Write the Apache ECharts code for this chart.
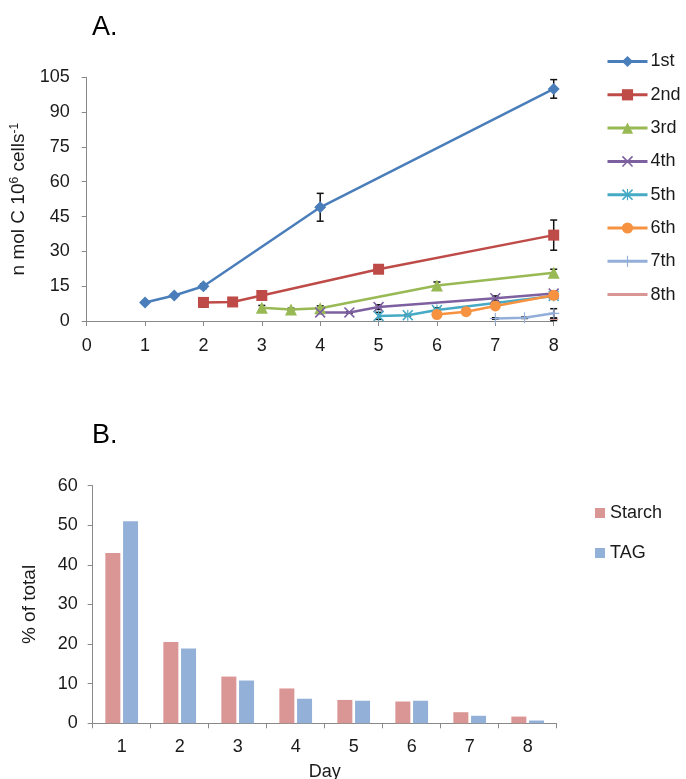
<!DOCTYPE html>
<html>
<head>
<meta charset="utf-8">
<script src="https://cdn.jsdelivr.net/npm/echarts@6/dist/echarts.min.js"></script>
<style>
html,body{margin:0;padding:0;background:#fff;}
#chart{width:686px;height:779px;}
</style>
</head>
<body>
<div id="chart"></div>
<script>
// ---- Panel A data ----
const seriesNames = ['1st','2nd','3rd','4th','5th','6th','7th','8th'];
const days1 = [1, 1.5, 2, 4, 8];
const vals1 = [8, 11, 15, 49, 100];
const err1  = [0.5, 0.5, 1, 6, 4];
const days2 = [2, 2.5, 3, 5, 8];
const vals2 = [8, 8.2, 11, 22.3, 37];
const err2  = [2, 0.5, 0.5, 1.5, 6.5];
const days3 = [3, 3.5, 4, 6, 8];
const vals3 = [5.7, 5, 5.5, 15.3, 20.8];
const err3  = [1, 0.5, 1, 1.5, 1.5];
const days4 = [4, 4.5, 5, 7, 8];
const vals4 = [3.7, 3.7, 6, 9.8, 11.8];
const err4  = [0.5, 0.3, 1, 1, 1];
const days5 = [5, 5.5, 6, 8];
const vals5 = [2.2, 2.5, 4.7, 10.8];
const err5  = [1.5, 0.3, 1, 1];
const days6 = [6, 6.5, 7, 8];
const vals6 = [2.8, 4, 6.5, 11.1];
const err6  = [0.5, 0.5, 0.5, 1];
const days7 = [7, 7.5, 8];
const vals7 = [1.1, 1.4, 3.3];
const err7  = [0.3, 0.3, 2];
const days8 = [8];
const vals8 = [0.7];
const err8  = [0.5];
const yTicksA = [0, 15, 30, 45, 60, 75, 90, 105];

// ---- Panel B data ----
const dayCats = ['1','2','3','4','5','6','7','8'];
const starch = [43, 20.5, 11.8, 8.8, 5.9, 5.5, 2.8, 1.7];
const tag    = [51, 18.9, 10.8, 6.2, 5.7, 5.7, 1.9, 0.7];

// ---- styles ----
const colors = ['#4A7EBB','#BE4B48','#98B954','#7D60A0','#46AAC5','#F69240','#93AED8','#DA9694'];
const symX = 'path://M0,1 L1,0 L5,4 L9,0 L10,1 L6,5 L10,9 L9,10 L5,6 L1,10 L0,9 L4,5 Z';
const symStar = 'path://M0,1 L1,0 L4.5,3.5 L4.5,0 L5.5,0 L5.5,3.5 L9,0 L10,1 L6,5 L10,9 L9,10 L5.5,6.5 L5.5,10 L4.5,10 L4.5,6.5 L1,10 L0,9 L4,5 Z';
const symPlus = 'path://M4.5,0 L5.5,0 L5.5,4.5 L10,4.5 L10,5.5 L5.5,5.5 L5.5,10 L4.5,10 L4.5,5.5 L0,5.5 L0,4.5 L4.5,4.5 Z';
const symDash = 'path://M0,0 L10,0 L10,3 L0,3 Z';
const symbols = ['diamond','rect','triangle',symX,symStar,'circle',symPlus,symDash];
const symSizes = [12, 11, 12, 11, 11, 11, 11, [9,3]];

const allDays = [days1,days2,days3,days4,days5,days6,days7,days8];
const allVals = [vals1,vals2,vals3,vals4,vals5,vals6,vals7,vals8];
const allErr  = [err1,err2,err3,err4,err5,err6,err7,err8];

const textColor = '#1a1a1a';
const axisColor = '#898989';
const font = 'Liberation Sans, Arial, sans-serif';
const fs = 18;

const series = [];
const errData = [];
seriesNames.forEach((nm, i) => {
  series.push({
    name: nm, type: 'line', xAxisIndex: 0, yAxisIndex: 0,
    data: allDays[i].map((d, j) => [d, allVals[i][j]]),
    symbol: symbols[i], symbolSize: symSizes[i],
    symbolKeepAspect: true,
    showAllSymbol: true,
    lineStyle: { color: colors[i], width: 2.5 },
    itemStyle: { color: colors[i] },
    z: 3, animation: false
  });
  allDays[i].forEach((d, j) => {
    errData.push([d, allVals[i][j] - allErr[i][j], allVals[i][j] + allErr[i][j]]);
  });
});

series.push({
  type: 'custom', xAxisIndex: 0, yAxisIndex: 0, z: 2, silent: true,
  data: errData,
  encode: { x: 0, y: [1, 2] },
  renderItem: function (params, api) {
    const x = api.value(0), lo = api.value(1), hi = api.value(2);
    const p1 = api.coord([x, lo]), p2 = api.coord([x, hi]);
    const w = 3.5;
    const st = { stroke: '#111', lineWidth: 1.5 };
    return { type: 'group', children: [
      { type: 'line', shape: { x1: p1[0], y1: p1[1], x2: p2[0], y2: p2[1] }, style: st },
      { type: 'line', shape: { x1: p1[0]-w, y1: p1[1], x2: p1[0]+w, y2: p1[1] }, style: st },
      { type: 'line', shape: { x1: p2[0]-w, y1: p2[1], x2: p2[0]+w, y2: p2[1] }, style: st }
    ]};
  },
  animation: false
});

series.push({
  name: 'Starch', type: 'bar', xAxisIndex: 1, yAxisIndex: 1,
  data: starch, barWidth: 15, barGap: '18%',
  itemStyle: { color: '#DA9694' }, animation: false
});
series.push({
  name: 'TAG', type: 'bar', xAxisIndex: 1, yAxisIndex: 1,
  data: tag, barWidth: 15, barGap: '18%',
  itemStyle: { color: '#93B1D8' }, animation: false
});

const legendAData = seriesNames.map((nm, i) =>
  i === 7 ? { name: nm, itemStyle: { opacity: 0 } } : { name: nm });

const chart = echarts.init(document.getElementById('chart'));
chart.setOption({
  backgroundColor: '#fff',
  animation: false,
  textStyle: { fontFamily: font, color: textColor },
  title: [
    { text: 'A.', left: 92, top: 14, padding: 0, textStyle: { fontSize: 27, fontWeight: 'normal', color: '#000', fontFamily: font } },
    { text: 'B.', left: 92, top: 422, padding: 0, textStyle: { fontSize: 27, fontWeight: 'normal', color: '#000', fontFamily: font } }
  ],
  legend: [
    {
      data: legendAData, orient: 'vertical', left: 606, top: 52.5, padding: 0,
      itemWidth: 40, itemHeight: 14, itemGap: 15.3,
      lineStyle: { width: 3 },
      textStyle: { fontSize: fs, color: textColor, fontFamily: font, padding: [0,0,0,-2] }
    },
    {
      data: ['Starch', 'TAG'], orient: 'vertical', left: 595, top: 504, padding: 0,
      itemWidth: 10, itemHeight: 10, itemGap: 22, icon: 'rect',
      textStyle: { fontSize: fs, color: textColor, fontFamily: font }
    }
  ],
  grid: [
    { left: 86.7, right: 132.3, top: 77.3, height: 243.7, containLabel: false, outerBoundsMode: 'none' },
    { left: 92.7, right: 129.3, top: 485.7, height: 237.6, containLabel: false, outerBoundsMode: 'none' }
  ],
  xAxis: [
    {
      type: 'value', gridIndex: 0, min: 0, max: 8, interval: 1,
      axisLine: { show: true, lineStyle: { color: axisColor } },
      axisTick: { show: true, length: 5, lineStyle: { color: axisColor } },
      splitLine: { show: false },
      axisLabel: { fontSize: fs, color: textColor, margin: 16, fontFamily: font }
    },
    {
      type: 'category', gridIndex: 1, data: dayCats, boundaryGap: true,
      axisLine: { show: true, lineStyle: { color: axisColor } },
      axisTick: { show: true, length: 5, alignWithLabel: false, lineStyle: { color: axisColor } },
      axisLabel: { fontSize: fs, color: textColor, margin: 15, fontFamily: font },
      name: 'Day', nameLocation: 'middle', nameGap: 40,
      nameTextStyle: { fontSize: fs, color: textColor, fontFamily: font }
    }
  ],
  yAxis: [
    {
      type: 'value', gridIndex: 0, min: 0, max: 105, interval: 15,
      axisLine: { show: true, lineStyle: { color: axisColor } },
      axisTick: { show: true, length: 5, lineStyle: { color: axisColor } },
      splitLine: { show: false },
      axisLabel: { fontSize: fs, color: textColor, margin: 17, fontFamily: font,
        formatter: v => (yTicksA.indexOf(v) >= 0 ? String(v) : '') },
      name: 'n mol C 10{sup|6} cells{sup|-1}', nameLocation: 'middle', nameRotate: 90, nameGap: 58,
      nameTextStyle: { fontSize: 19, color: textColor, fontFamily: font,
        rich: { sup: { fontSize: 12, color: textColor, fontFamily: font, verticalAlign: 'top', padding: [0,0,8,0] } } }
    },
    {
      type: 'value', gridIndex: 1, min: 0, max: 60, interval: 10,
      axisLine: { show: true, lineStyle: { color: axisColor } },
      axisTick: { show: true, length: 5, lineStyle: { color: axisColor } },
      splitLine: { show: false },
      axisLabel: { fontSize: fs, color: textColor, margin: 15, fontFamily: font },
      name: '% of total', nameLocation: 'middle', nameRotate: 90, nameGap: 53,
      nameTextStyle: { fontSize: 19, color: textColor, fontFamily: font }
    }
  ],
  series: series
});
</script>
</body>
</html>
